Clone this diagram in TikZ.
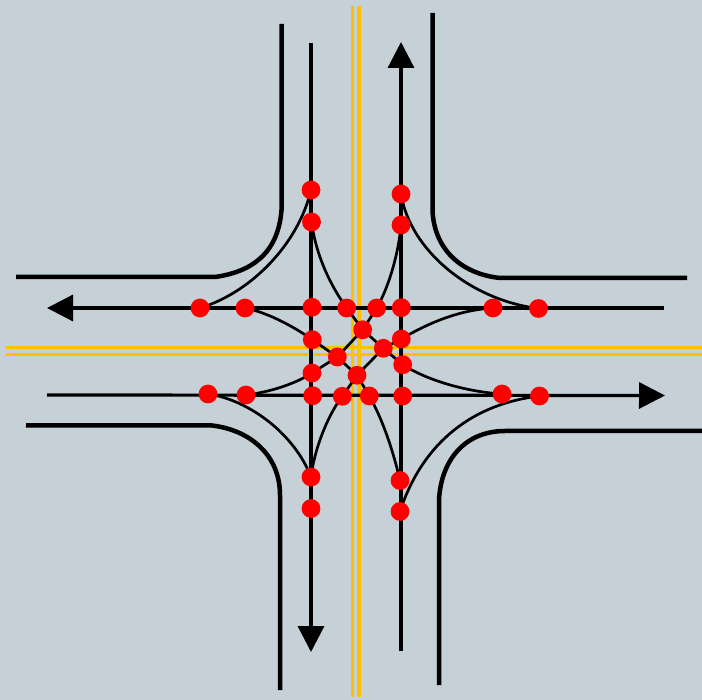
\documentclass[tikz,border=0pt]{standalone}
\usetikzlibrary{arrows.meta,backgrounds}
\definecolor{bgc}{HTML}{C5D0D7}
\definecolor{lane}{HTML}{FFC000}
\tikzset{
  conflict/.style={circle,fill=red,draw=none,inner sep=0pt,minimum size=18.8pt},
  curb/.style={line width=4.5pt,black},
  through/.style={line width=3.2pt,black,-{Triangle[length=26pt,width=26pt]}},
  turn/.style={line width=2.7pt,black},
  centre/.style={line width=3.3pt,lane}
}
\begin{document}
\begin{tikzpicture}[x=1pt,y=-1pt]
\useasboundingbox (0,0) rectangle (702,700);
% conflict points
\foreach \n/\p in {
 nA/{311,190},nB/{311.5,222},nC/{401,194},nD/{401,225},
 wA/{200,308},wB/{245,308},eA/{493,308},eB/{538.5,308.5},
 xA/{208,394},xB/{246,395},fA/{502,394},fB/{539.5,396},
 sA/{311,477},sB/{311,508.5},tA/{400,480.5},tB/{400,511.5},
 a/{312,307.3},b/{346.7,308},c/{376.7,308},d/{401.3,307.7},
 e/{362.7,329.7},f/{312.3,339.7},g/{401.3,339},h/{383.3,348.3},
 i/{337.3,357},j/{402.7,364.7},k/{312,373},l/{357,375.3},
 m/{312.7,395.7},o/{342.3,396.3},q/{369.3,396},r/{402.7,396}}
 {\node[conflict] (\n) at (\p) {};}
% free ends
\coordinate (vwTop) at (311,43);   \coordinate (vwTip) at (311,652);
\coordinate (veBot) at (401,651);  \coordinate (veTip) at (401,42);
\coordinate (hnR) at (664,308);    \coordinate (hnTip) at (47,308);
\coordinate (hsL) at (47,395);     \coordinate (hsTip) at (665,395.5);
\begin{pgfonlayer}{background}
\fill[bgc] (0,0) rectangle (702,700);
% centre lines
\draw[centre] (352.7,6) -- (352.7,697);
\draw[centre] (359,6) -- (359,697);
\draw[centre] (6,347.7) -- (702,347.7);
\draw[centre] (6,354.3) -- (702,354.3);
% curbs
\draw[curb] (281.7,24) -- (281.5,210) .. controls (278,255) and (250,272) .. (215,277) -- (16,277);
\draw[curb] (432.7,13) -- (432.5,210) .. controls (434,250) and (462,274) .. (500,278) -- (687,278);
\draw[curb] (26,425.3) -- (212,425.5) .. controls (250,430) and (280,455) .. (280,495) -- (280,690);
\draw[curb] (702,431) -- (505,431) .. controls (465,431) and (441,460) .. (439,500) -- (439,685);
% through lanes
\draw[through] (vwTop) -- (vwTip);
\draw[through] (veBot) -- (veTip);
\draw[through] (hnR) -- (hnTip);
\draw[through] (hsL) -- (hsTip);
% wide turns
\draw[turn] (nA.center) .. controls (298,245) and (250,293) .. (wA.center);
\draw[turn] (nC.center) .. controls (410,250) and (470,300) .. (eB.center);
\draw[turn] (xA.center) .. controls (250,400) and (295,435) .. (sA.center);
\draw[turn] (tB.center) .. controls (420,450) and (465,405) .. (fB.center);
% tight turns through the junction
\draw[turn] (nB.center) .. controls (316,255) and (330,285) .. (b.center) -- (e.center) -- (h.center) -- (j.center) .. controls (430,382) and (470,392) .. (fA.center);
\draw[turn] (nD.center) .. controls (399,250) and (390,285) .. (c.center) -- (e.center) -- (i.center) -- (k.center) .. controls (295,384) and (270,392) .. (xB.center);
\draw[turn] (wB.center) .. controls (265,312) and (290,324) .. (f.center) -- (i.center) -- (l.center) -- (q.center) .. controls (382,418) and (393,450) .. (tA.center);
\draw[turn] (eA.center) .. controls (460,310) and (430,322) .. (g.center) -- (h.center) -- (l.center) -- (o.center) .. controls (330,412) and (315,445) .. (sA.center);
\end{pgfonlayer}
\end{tikzpicture}
\end{document}
